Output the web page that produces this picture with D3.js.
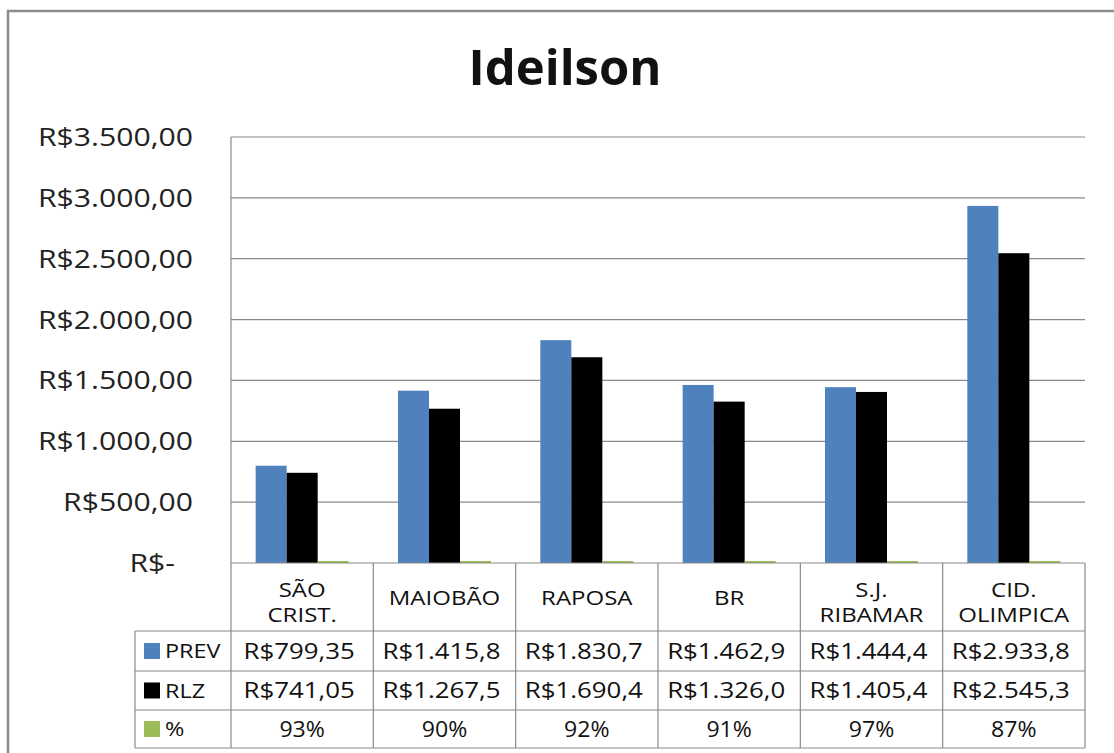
<!DOCTYPE html>
<html>
<head>
<meta charset="utf-8">
<script src="https://cdn.jsdelivr.net/npm/d3@7"></script>
<style>
  html, body { margin: 0; padding: 0; background: #fff; }
  svg { display: block; }
  text { font-family: "Open Sans", "DejaVu Sans", sans-serif; fill: #111; }
</style>
</head>
<body>
<svg id="chart" width="1114" height="753"></svg>
<script>
// Monthly target vs. realised per store
const title = "Ideilson";
const categories = ["SÃO\nCRIST.", "MAIOBÃO", "RAPOSA", "BR", "S.J.\nRIBAMAR", "CID.\nOLIMPICA"];
const seriesNames = ["PREV", "RLZ", "%"];
const prev = [799.35, 1415.8, 1830.7, 1462.9, 1444.4, 2933.8];
const rlz = [741.05, 1267.5, 1690.4, 1326.0, 1405.4, 2545.3];
const pct = [0.93, 0.90, 0.92, 0.91, 0.97, 0.87];
const yTicks = [0, 500, 1000, 1500, 2000, 2500, 3000, 3500];
const colors = ["#4F81BD", "#000000", "#9BBB59"];

const svg = d3.select("#chart");
const W = 1114, H = 753;
const plot = { left: 231, right: 1085, top: 137, bottom: 563 };
const rowEdges = [563, 631, 671, 710, 748];
const tableLeft = 135;
const gridColor = "#8a8a8a";

const br = d3.formatLocale({ decimal: ",", thousands: ".", grouping: [3], currency: ["R$", ""] });
const money2 = br.format("$,.2f");
const axisFmt = v => v === 0 ? "R$-" : money2(v);
const cellFmt = v => money2(v).slice(0, 9);
const pctFmt = d3.format(".0%");

// stretch glyphs horizontally to the wide face of the chart text
function stretch(sel, k) {
  sel.each(function () {
    const w = this.getComputedTextLength();
    this.setAttribute("textLength", w * k);
    this.setAttribute("lengthAdjust", "spacingAndGlyphs");
  });
}

// outer chart frame
svg.append("path")
  .attr("d", `M8,${H + 2} V11 H${W + 2}`)
  .attr("fill", "none").attr("stroke", "#8c8c8c").attr("stroke-width", 2.5);

// title
svg.append("text")
  .attr("x", 565).attr("y", 85)
  .attr("text-anchor", "middle")
  .style("font-size", "49px").style("font-weight", "700")
  .text(title);

const y = d3.scaleLinear().domain([0, 3500]).range([plot.bottom, plot.top]);
const x = d3.scaleBand().domain(categories).range([plot.left, plot.right]);
const xs = d3.scaleBand().domain(seriesNames).range([0, x.bandwidth()]).paddingOuter(0.795);

// horizontal gridlines
svg.append("g").selectAll("line").data(yTicks.filter(t => t > 0)).join("line")
  .attr("x1", plot.left).attr("x2", plot.right)
  .attr("y1", d => y(d)).attr("y2", d => y(d))
  .attr("stroke", gridColor).attr("stroke-width", 1.2);

// y axis labels
const yl = svg.append("g").selectAll("text").data(yTicks).join("text")
  .attr("x", 193).attr("y", d => y(d) + 9)
  .attr("dx", d => d === 0 ? -18 : 0)
  .attr("text-anchor", "end")
  .style("font-size", "26px").style("fill", "#222")
  .text(axisFmt);
stretch(yl, 1.16);

// bars
const seriesData = [prev, rlz, pct];
seriesNames.forEach((name, si) => {
  svg.append("g").selectAll("rect").data(seriesData[si]).join("rect")
    .attr("x", (d, i) => x(categories[i]) + xs(name))
    .attr("width", xs.bandwidth())
    .attr("y", d => Math.min(y(d), plot.bottom - 2))
    .attr("height", d => Math.max(2, plot.bottom - y(d)))
    .attr("fill", colors[si]);
});

// data table grid
const tg = svg.append("g").attr("stroke", gridColor).attr("stroke-width", 1.2).attr("fill", "none");
// horizontal rules
rowEdges.forEach((ry, i) => {
  tg.append("line").attr("x1", i === 0 ? plot.left : tableLeft).attr("x2", plot.right)
    .attr("y1", ry).attr("y2", ry);
});
// left axis line of plot and category header
tg.append("line").attr("x1", plot.left).attr("x2", plot.left)
  .attr("y1", plot.top).attr("y2", rowEdges[4]);
tg.append("line").attr("x1", tableLeft).attr("x2", tableLeft)
  .attr("y1", rowEdges[1]).attr("y2", rowEdges[4]);
categories.forEach((c, i) => {
  const cx = x(c) + x.bandwidth();
  tg.append("line").attr("x1", cx).attr("x2", cx).attr("y1", rowEdges[0]).attr("y2", rowEdges[4]);
});

// category headers
const ch = svg.append("g").selectAll("text").data(categories).join("text")
  .attr("text-anchor", "middle")
  .style("font-size", "20px");
ch.each(function (c) {
  const lines = c.split("\n");
  const cx = x(c) + x.bandwidth() / 2;
  const mid = (rowEdges[0] + rowEdges[1]) / 2;
  const t = d3.select(this);
  lines.forEach((ln, li) => {
    const by = lines.length === 1 ? mid + 8 : mid - 0.5 + li * 25;
    t.append("tspan").attr("x", cx).attr("y", by).text(ln);
  });
});
stretch(ch.selectAll("tspan"), 1.2);

// series rows: legend key, name, values
seriesNames.forEach((name, si) => {
  const top = rowEdges[si + 1], bot = rowEdges[si + 2];
  const mid = (top + bot) / 2;
  svg.append("rect")
    .attr("x", 144).attr("y", mid - 8).attr("width", 16).attr("height", 16)
    .attr("fill", colors[si]);
  const lab = svg.append("text")
    .attr("x", 165).attr("y", mid + 7)
    .style("font-size", "20px")
    .text(name);
  stretch(lab, 1.17);
  const vals = svg.append("g").selectAll("text").data(seriesData[si]).join("text")
    .attr("x", (d, i) => x(categories[i]) + x.bandwidth() / 2 - (si === 2 ? 0 : 3))
    .attr("y", mid + 7.5)
    .attr("text-anchor", "middle")
    .style("font-size", "21px")
    .text(d => si === 2 ? pctFmt(d) : cellFmt(d));
  stretch(vals, si === 2 ? 1.1 : 1.23);
});
</script>
</body>
</html>
